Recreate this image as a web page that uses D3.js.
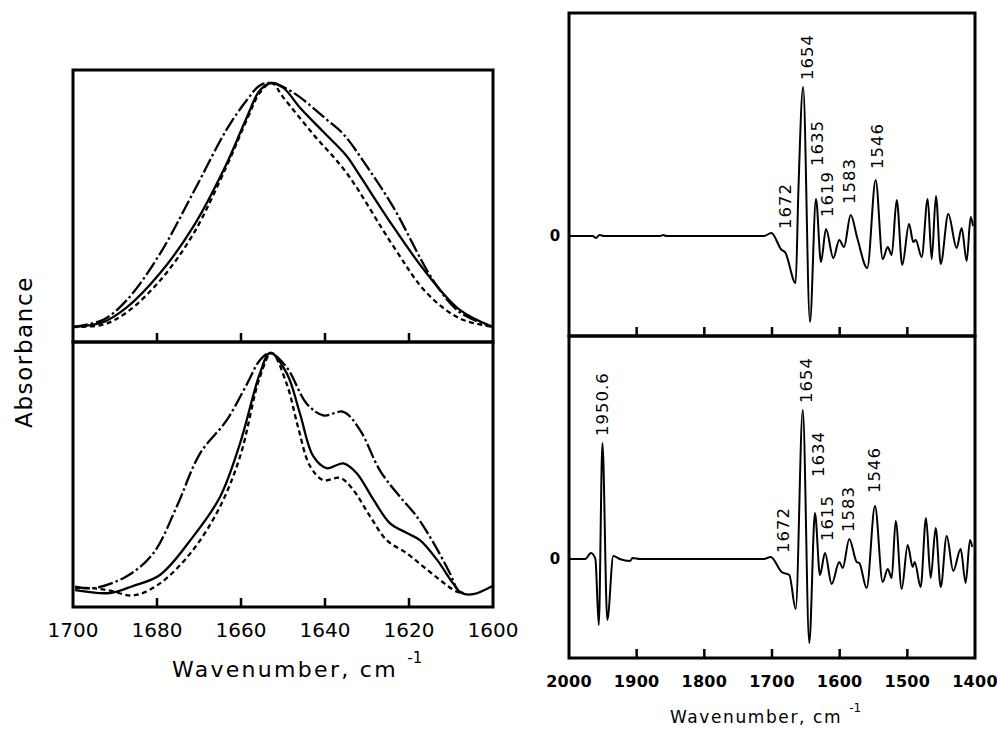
<!DOCTYPE html>
<html>
<head>
<meta charset="utf-8">
<script src="https://cdn.jsdelivr.net/npm/d3@7"></script>
<style>
  body { margin: 0; background: #fff; }
  svg { display: block; }
  .frame { fill: none; stroke: #000; stroke-width: 3; }
  .tick { stroke: #000; stroke-width: 2.5; }
  .curve { fill: none; stroke: #000; stroke-width: 2.3; stroke-linejoin: round; }
  .spec { fill: none; stroke: #000; stroke-width: 2; stroke-linejoin: round; }
</style>
</head>
<body>
<script>
// ---- data ----

// left panels: wavenumber (cm-1) / normalised absorbance
var leftTicks = [1700, 1680, 1660, 1640, 1620, 1600];

var topSolid = [[1700,0],[1692.8,0.02],[1687.2,0.08],[1679.3,0.22],[1671.4,0.41],[1663.4,0.67],[1658.6,0.86],[1655.5,0.97],[1652.7,1.0],[1649.9,0.98],[1646,0.90],[1640.4,0.80],[1634.8,0.70],[1631.7,0.62],[1623.7,0.41],[1615.8,0.22],[1607.9,0.07],[1600,0]];
var topDashDot = [[1700,0],[1692.8,0.03],[1687.2,0.11],[1679.3,0.30],[1671.4,0.55],[1663.4,0.81],[1658.6,0.93],[1655.5,0.99],[1652.7,1.0],[1647.5,0.96],[1639.6,0.85],[1635.6,0.79],[1630.1,0.66],[1623.7,0.49],[1614.2,0.19],[1607.9,0.06],[1600,0]];
var topDashed = [[1700,0],[1692.8,0.01],[1687.2,0.06],[1679.3,0.19],[1671.4,0.38],[1663.4,0.66],[1658.6,0.85],[1655.5,0.96],[1652.7,1.0],[1649.9,0.94],[1642.8,0.79],[1634.8,0.63],[1623.7,0.33],[1615.8,0.14],[1607.9,0.035],[1600,0]];

var botSolid = [[1699.5,0.012],[1691.2,0],[1685.6,0.03],[1679.3,0.075],[1671.4,0.235],[1665,0.40],[1660.2,0.625],[1655.5,0.915],[1653.1,1.0],[1649.1,0.915],[1646,0.75],[1642.8,0.57],[1639.6,0.52],[1635.6,0.54],[1632.5,0.50],[1628.5,0.39],[1624.5,0.29],[1620.5,0.25],[1617.4,0.22],[1613.4,0.14],[1609.5,0.04],[1607.5,0],[1604.7,-0.005],[1600,0.03]];
var botDashed = [[1699.5,0.02],[1695.2,0.02],[1691.2,0.01],[1685.6,-0.01],[1679.3,0.04],[1671.4,0.18],[1665,0.36],[1660.2,0.57],[1655.5,0.90],[1652.7,1.0],[1649.1,0.87],[1646.4,0.69],[1643.6,0.53],[1640.4,0.47],[1636.4,0.48],[1633.3,0.43],[1629.3,0.32],[1625.3,0.22],[1620.5,0.165],[1616.6,0.11],[1612.6,0.054],[1608.6,0.005],[1607,0]];
var botDashDot = [[1699.5,0.027],[1695.2,0.02],[1687.2,0.07],[1680.9,0.165],[1675.3,0.36],[1669.8,0.58],[1663.4,0.72],[1658.6,0.87],[1655.5,0.97],[1653.1,1.0],[1649.1,0.94],[1644.4,0.79],[1640.4,0.74],[1635.6,0.755],[1631.7,0.68],[1626.9,0.51],[1622.1,0.40],[1618.2,0.32],[1614.2,0.21],[1610.2,0.08],[1608.3,0.01],[1607,0]];

// right panels: deconvolved spectra
var rightTicks = [2000, 1900, 1800, 1700, 1600, 1500, 1400];

var specTop = [[2000,0],[1965,0],[1960,-0.02],[1955,0.01],[1948,0],[1865,0],[1861,0.01],[1856,0],[1800,0],[1712,0],[1701,0.03],[1685.7,-0.14],[1680.8,-0.16],[1665,-0.47],[1661.1,0.43],[1654,1.49],[1643.9,-0.86],[1635,0.37],[1627.6,-0.26],[1620.2,0.07],[1609.4,-0.22],[1600.6,-0.04],[1593.6,-0.11],[1583.7,0.21],[1574,-0.02],[1559.2,-0.32],[1546.8,0.56],[1536.4,-0.23],[1529,-0.11],[1523.1,-0.19],[1515.7,0.36],[1507.5,-0.29],[1497.5,0.12],[1491.2,-0.06],[1487.6,-0.04],[1478.8,-0.21],[1469.9,0.37],[1464,-0.23],[1457.7,0.40],[1450.7,-0.28],[1439.5,0.22],[1427.1,-0.12],[1419.7,0.08],[1412.3,-0.25],[1406.4,0.19],[1403,0.10]];

var specBot = [[2000,0],[1976,0],[1967.5,0.06],[1961,0],[1956,-0.66],[1950.6,1.16],[1943.4,-0.61],[1934.5,0.03],[1925,0],[1910,-0.02],[1906,0.01],[1895,0],[1850,0],[1712,0],[1702,0.02],[1685.7,-0.13],[1674.4,-0.16],[1665,-0.50],[1654.5,1.49],[1644.9,-0.84],[1636.5,0.46],[1629.1,-0.16],[1621.7,0.06],[1611.8,-0.25],[1600.6,-0.03],[1595.5,-0.09],[1585.8,0.20],[1574.8,-0.03],[1571,-0.04],[1560.1,-0.29],[1547.8,0.53],[1536.4,-0.23],[1529,-0.10],[1523.1,-0.19],[1517.2,0.38],[1508.3,-0.30],[1499.5,0.14],[1492.1,-0.08],[1489.1,-0.03],[1480.3,-0.28],[1472.4,0.41],[1465.5,-0.19],[1458.1,0.31],[1450.7,-0.28],[1441.8,0.23],[1432.1,-0.12],[1421.2,0.10],[1413.8,-0.24],[1407.4,0.19],[1404,0.12]];

// peak annotations: label, wavenumber, height (data units)
var labelsTop = [["1672",1680.8,0.07],["1654",1647.8,1.56],["1635",1634.0,0.70],["1619",1619.2,0.19],["1583",1585.8,0.32],["1546",1545.3,0.67]];
var labelsBot = [["1950.6",1951.7,1.23],["1672",1683.3,0.06],["1654",1649.8,1.56],["1634",1632.5,0.82],["1615",1619.2,0.18],["1583",1587.2,0.27],["1546",1548.8,0.66]];

// ---- layout ----
var W = 997, H = 729;
var svg = d3.select("body").append("svg").attr("width", W).attr("height", H);

var L = {x0: 73, x1: 493, top: [70, 342], bot: [342, 607]};
var R = {x0: 569, x1: 975, top: [13, 336], bot: [336, 658]};

var xL = d3.scaleLinear().domain([1700, 1600]).range([L.x0, L.x1]);
var yLt = d3.scaleLinear().domain([-0.0615, 1.0533]).range([L.top[1], L.top[0]]);
var yLb = d3.scaleLinear().domain([-0.0583, 1.0458]).range([L.bot[1], L.bot[0]]);

var xR = d3.scaleLinear().domain([2000, 1400]).range([R.x0, R.x1]);
var yRt = d3.scaleLinear().domain([-1.0, 2.23]).range([R.top[1], R.top[0]]);
var yRb = d3.scaleLinear().domain([-0.99, 2.23]).range([R.bot[1], R.bot[0]]);

function lineFor(x, y, curve) {
  return d3.line().x(function(d) { return x(d[0]); }).y(function(d) { return y(d[1]); })
    .curve(curve);
}

function panel(x, range, ticks) {
  var g = svg.append("g");
  // inward ticks along the bottom edge
  g.selectAll("line").data(ticks.slice(1, -1)).enter().append("line")
    .attr("class", "tick")
    .attr("x1", function(d) { return x(d); }).attr("x2", function(d) { return x(d); })
    .attr("y1", range[1]).attr("y2", range[1] - 9);
  g.append("rect").attr("class", "frame")
    .attr("x", x.range()[0]).attr("y", range[0])
    .attr("width", x.range()[1] - x.range()[0]).attr("height", range[1] - range[0]);
  return g;
}

// left panels
svg.append("clipPath").attr("id", "clipL").append("rect")
  .attr("x", L.x0).attr("y", L.top[0]).attr("width", L.x1 - L.x0).attr("height", L.bot[1] - L.top[0]);

var dashes = [null, "5,3.5", "15,3,2.5,3"];
var smooth = d3.curveCatmullRom.alpha(0.5);
[[topSolid, topDashed, topDashDot, yLt], [botSolid, botDashed, botDashDot, yLb]].forEach(function(set) {
  var y = set[3];
  [set[0], set[1], set[2]].forEach(function(data, i) {
    svg.append("path").attr("class", "curve")
      .attr("clip-path", "url(#clipL)")
      .attr("d", lineFor(xL, y, smooth)(data))
      .attr("stroke-dasharray", dashes[i]);
  });
});

panel(xL, L.top, leftTicks);
panel(xL, L.bot, leftTicks);

// left x axis labels
svg.append("g").selectAll("text").data(leftTicks).enter().append("text")
  .attr("x", function(d) { return xL(d); }).attr("y", 637)
  .attr("text-anchor", "middle")
  .style("font-family", "DejaVu Sans").style("font-size", "20px")
  .text(function(d) { return d; });

var tL = svg.append("text").attr("x", 172).attr("y", 677)
  .style("font-family", "DejaVu Sans").style("font-size", "22px").style("letter-spacing", "2.3px");
tL.append("tspan").text("Wavenumber, cm ");
tL.append("tspan").attr("dy", -14).style("font-size", "15px").style("letter-spacing", "0px").text("-1");

svg.append("text")
  .attr("transform", "translate(32,352) rotate(-90)")
  .attr("text-anchor", "middle")
  .style("font-family", "DejaVu Sans").style("font-size", "23px").style("letter-spacing", "1.6px")
  .text("Absorbance");

// right panels
svg.append("clipPath").attr("id", "clipR").append("rect")
  .attr("x", R.x0).attr("y", R.top[0]).attr("width", R.x1 - R.x0).attr("height", R.bot[1] - R.top[0]);

svg.append("path").attr("class", "spec").attr("clip-path", "url(#clipR)")
  .attr("d", lineFor(xR, yRt, d3.curveMonotoneX)(specTop));
svg.append("path").attr("class", "spec").attr("clip-path", "url(#clipR)")
  .attr("d", lineFor(xR, yRb, d3.curveMonotoneX)(specBot));

panel(xR, R.top, rightTicks);
panel(xR, R.bot, rightTicks);

function peakLabels(data, y) {
  svg.append("g").selectAll("text").data(data).enter().append("text")
    .attr("transform", function(d) { return "translate(" + xR(d[1]) + "," + y(d[2]) + ") rotate(-90)"; })
    .attr("dy", "0.36em")
    .style("font-family", "DejaVu Sans").style("font-size", "16.5px").style("letter-spacing", "1px")
    .text(function(d) { return d[0]; });
}
peakLabels(labelsTop, yRt);
peakLabels(labelsBot, yRb);

// zero markers
[yRt, yRb].forEach(function(y) {
  svg.append("text").attr("x", 555).attr("y", y(0)).attr("dy", "0.35em")
    .attr("text-anchor", "middle")
    .style("font-family", "DejaVu Sans").style("font-weight", "bold").style("font-size", "15px")
    .text("0");
});

svg.append("g").selectAll("text").data(rightTicks).enter().append("text")
  .attr("x", function(d) { return xR(d); }).attr("y", 687)
  .attr("text-anchor", "middle")
  .style("font-family", "DejaVu Sans").style("font-weight", "bold").style("font-size", "16px")
  .style("letter-spacing", "0.3px")
  .text(function(d) { return d; });

var tR = svg.append("text").attr("x", 670).attr("y", 723)
  .style("font-family", "DejaVu Sans").style("font-size", "17px").style("letter-spacing", "1.6px");
tR.append("tspan").text("Wavenumber, cm ");
tR.append("tspan").attr("dy", -11).style("font-size", "12px").style("letter-spacing", "0px").text("-1");
</script>
</body>
</html>
